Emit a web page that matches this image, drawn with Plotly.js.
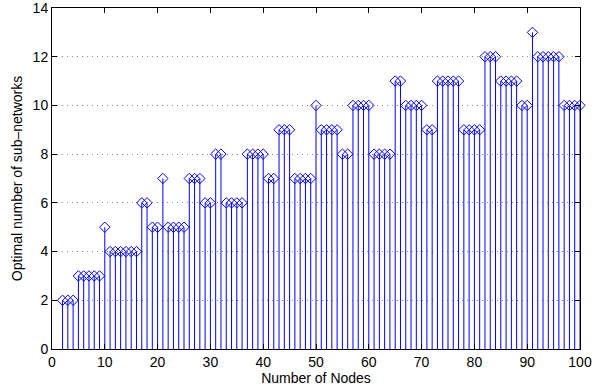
<!DOCTYPE html>
<html><head><meta charset="utf-8">
<script src="https://cdn.plot.ly/plotly-3.0.1.min.js"></script>
<style>body{margin:0;background:#fff}#c{width:605px;height:388px}</style>
</head><body><div id="c"></div>
<script>
const nodes = [];
for (let n = 2; n <= 100; n++) nodes.push(n);
const optimal = [
 2,2,2,            // 2-4
 3,3,3,3,3,        // 5-9
 5,                // 10
 4,4,4,4,4,4,      // 11-16
 6,6,              // 17-18
 5,5,              // 19-20
 7,                // 21
 5,5,5,5,          // 22-25
 7,7,7,            // 26-28
 6,6,              // 29-30
 8,8,              // 31-32
 6,6,6,6,          // 33-36
 8,8,8,8,          // 37-40
 7,7,              // 41-42
 9,9,9,            // 43-45
 7,7,7,7,          // 46-49
 10,               // 50
 9,9,9,9,          // 51-54
 8,8,              // 55-56
 10,10,10,10,      // 57-60
 8,8,8,8,          // 61-64
 11,11,            // 65-66
 10,10,10,10,      // 67-70
 9,9,              // 71-72
 11,11,11,11,11,   // 73-77
 9,9,9,9,          // 78-81
 12,12,12,         // 82-84
 11,11,11,11,      // 85-88
 10,10,            // 89-90
 13,               // 91
 12,12,12,12,12,   // 92-96
 10,10,10,10       // 97-100
];
const xTicks = [0,10,20,30,40,50,60,70,80,90,100];
const yTicks = [0,2,4,6,8,10,12,14];

const trace = {
  type: 'scatter', mode: 'markers', x: nodes, y: optimal,
  marker: {symbol: 'diamond-open', size: 8, color: '#0000ff', line: {width: 1, color: '#0000ff'}},
  error_y: {type: 'data', symmetric: false, array: optimal.map(() => 0), arrayminus: optimal,
            color: '#0000ff', thickness: 1, width: 0},
  hoverinfo: 'skip', cliponaxis: false
};
const fam = 'Liberation Sans, Arial, Helvetica, sans-serif';
const axFont = {family: fam, size: 14, color: '#000'};
const layout = {
  width: 605, height: 388,
  margin: {l: 52, r: 25, t: 8, b: 39},
  paper_bgcolor: '#fff', plot_bgcolor: '#fff',
  showlegend: false,
  font: axFont,
  xaxis: {range: [0, 100], tickvals: xTicks, ticktext: xTicks.map(String), ticks: 'inside', ticklen: 5,
          tickcolor: '#000', showline: true, linecolor: '#000', linewidth: 1, mirror: 'ticks',
          showgrid: false, zeroline: false, tickfont: axFont, ticklabeloverflow: 'allow', automargin: false,
          title: {text: 'Number of Nodes', font: {family: fam, size: 14, color: '#000'}, standoff: 1}},
  yaxis: {range: [0, 14], tickvals: yTicks, ticktext: yTicks.map(String), ticks: 'inside', ticklen: 5,
          tickcolor: '#000', showline: true, linecolor: '#000', linewidth: 1, mirror: 'ticks',
          showgrid: true, gridcolor: '#888', griddash: '1px,4px', gridwidth: 1, zeroline: false, tickfont: axFont,
          ticklabeloverflow: 'allow', automargin: false,
          title: {text: 'Optimal number of sub\u2013networks', font: {family: fam, size: 14, color: '#000'}, standoff: 6}}
};
Plotly.newPlot('c', [trace], layout, {displayModeBar: false, staticPlot: true});
</script></body></html>
